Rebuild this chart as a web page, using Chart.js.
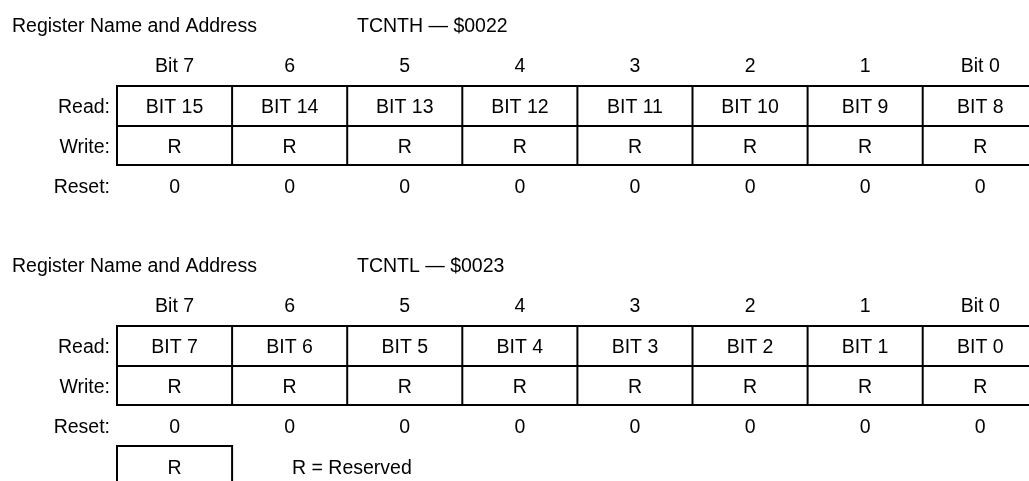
<!DOCTYPE html>
<html>
<head>
<meta charset="utf-8">
<script src="https://cdn.jsdelivr.net/npm/chart.js@4/dist/chart.umd.min.js"></script>
<style>
  html, body { margin: 0; padding: 0; background: #fff; }
  #c { display: block; }
</style>
</head>
<body>
<canvas id="c" width="1029" height="481" style="width:1029px;height:481px"></canvas>
<script>
// ---- data ----
const bitHeaders = ['Bit 7', '6', '5', '4', '3', '2', '1', 'Bit 0'];
const rowLabels = ['Read:', 'Write:', 'Reset:'];
const titleLabel = 'Register Name and Address';
const registerNames = ['TCNTH \u2014 $0022', 'TCNTL \u2014 $0023'];
const readHigh = ['BIT 15', 'BIT 14', 'BIT 13', 'BIT 12', 'BIT 11', 'BIT 10', 'BIT 9', 'BIT 8'];
const writeHigh = ['R', 'R', 'R', 'R', 'R', 'R', 'R', 'R'];
const resetHigh = ['0', '0', '0', '0', '0', '0', '0', '0'];
const readLow = ['BIT 7', 'BIT 6', 'BIT 5', 'BIT 4', 'BIT 3', 'BIT 2', 'BIT 1', 'BIT 0'];
const writeLow = ['R', 'R', 'R', 'R', 'R', 'R', 'R', 'R'];
const resetLow = ['0', '0', '0', '0', '0', '0', '0', '0'];
const legendKey = 'R';
const legendText = 'R = Reserved';

// ---- layout (pixel units on the y scale, column units on the x scale) ----
const COL_LEFT_PX = 117, COL_W_PX = 115.1, W = 1029, H = 481;
const blocks = [
  { name: registerNames[0], read: readHigh, write: writeHigh, reset: resetHigh, dy: 0 },
  { name: registerNames[1], read: readLow, write: writeLow, reset: resetLow, dy: 240 }
];
const FONT = '19.5px "Liberation Sans", Arial, Helvetica, sans-serif';

const registerPlugin = {
  id: 'registerPlugin',
  afterDraw(chart) {
    const ctx = chart.ctx;
    const xs = chart.scales.x, ys = chart.scales.y;
    const X = v => xs.getPixelForValue(v);
    const Y = v => ys.getPixelForValue(v);
    ctx.save();
    ctx.fillStyle = '#000';
    ctx.strokeStyle = '#000';
    ctx.lineWidth = 2;
    ctx.font = FONT;
    ctx.textBaseline = 'alphabetic';
    const hline = (c0, c1, y) => { ctx.beginPath(); ctx.moveTo(X(c0) - 1, Y(y)); ctx.lineTo(X(c1) + 1, Y(y)); ctx.stroke(); };
    const vline = (c, y0, y1) => { ctx.beginPath(); ctx.moveTo(X(c), Y(y0)); ctx.lineTo(X(c), Y(y1)); ctx.stroke(); };

    blocks.forEach(b => {
      const d = b.dy;
      // titles
      ctx.textAlign = 'left';
      ctx.fillText(titleLabel, 12, Y(32 + d));
      ctx.fillText(b.name, 357, Y(32 + d));
      // bit headers
      ctx.textAlign = 'center';
      bitHeaders.forEach((t, i) => ctx.fillText(t, X(i + 0.5), Y(72 + d)));
      // row labels
      ctx.textAlign = 'right';
      ctx.fillText(rowLabels[0], 110, Y(113 + d));
      ctx.fillText(rowLabels[1], 110, Y(153 + d));
      ctx.fillText(rowLabels[2], 110, Y(193 + d));
      // cells
      ctx.textAlign = 'center';
      b.read.forEach((t, i) => ctx.fillText(t, X(i + 0.5), Y(113 + d)));
      b.write.forEach((t, i) => ctx.fillText(t, X(i + 0.5), Y(153 + d)));
      b.reset.forEach((t, i) => ctx.fillText(t, X(i + 0.5), Y(193 + d)));
      // grid
      const n = bitHeaders.length;
      hline(0, n, 86 + d);
      hline(0, n, 126 + d);
      hline(0, n, 165 + d);
      for (let i = 0; i <= n; i++) vline(i, 86 + d, 165 + d);
    });

    // legend
    ctx.beginPath();
    ctx.moveTo(X(0), Y(490));
    ctx.lineTo(X(0), Y(446));
    ctx.lineTo(X(1), Y(446));
    ctx.lineTo(X(1), Y(490));
    ctx.stroke();
    ctx.textAlign = 'center';
    ctx.fillText(legendKey, X(0.5), Y(474));
    ctx.textAlign = 'left';
    ctx.fillText(legendText, 292, Y(474));
    ctx.restore();
  }
};

const xMin = -COL_LEFT_PX / COL_W_PX;
const xMax = xMin + W / COL_W_PX;

new Chart(document.getElementById('c'), {
  type: 'scatter',
  data: { datasets: [{ data: [], pointRadius: 0 }] },
  options: {
    responsive: false,
    animation: false,
    devicePixelRatio: 1,
    layout: { padding: 0 },
    plugins: { legend: { display: false }, tooltip: { enabled: false }, title: { display: false } },
    scales: {
      x: { type: 'linear', display: false, min: xMin, max: xMax },
      y: { type: 'linear', display: false, reverse: true, min: 0, max: H }
    }
  },
  plugins: [registerPlugin]
});
</script>
</body>
</html>
